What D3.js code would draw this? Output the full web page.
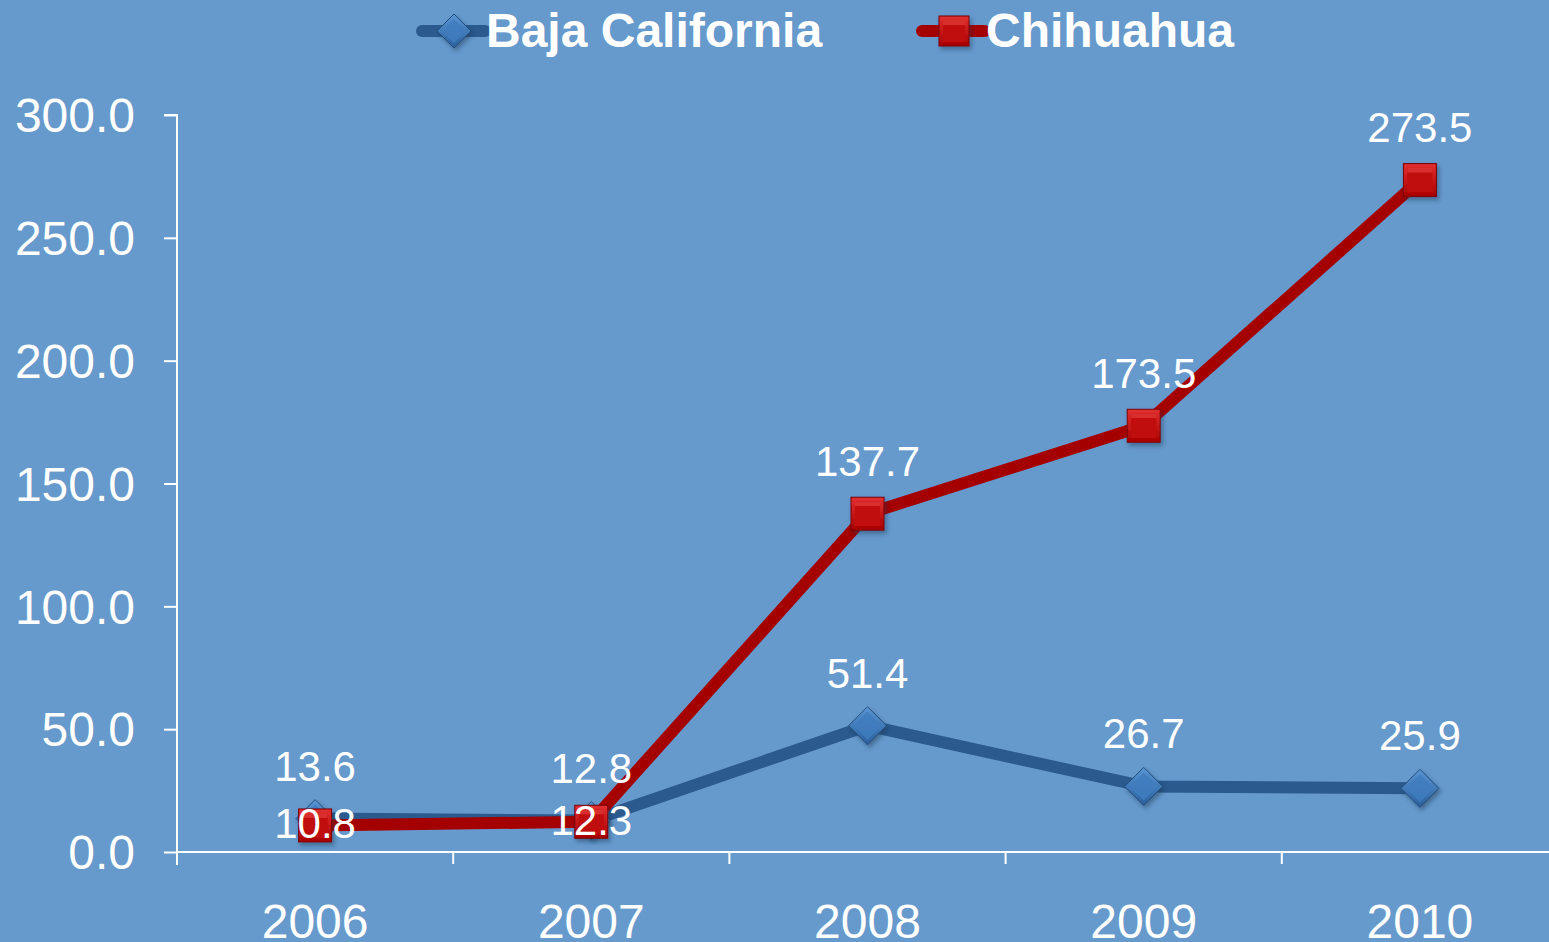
<!DOCTYPE html>
<html><head><meta charset="utf-8">
<script src="https://cdn.jsdelivr.net/npm/d3@7/dist/d3.min.js"></script>
<style>html,body{margin:0;padding:0;background:#6699CC;overflow:hidden}svg{display:block}</style>
</head><body>
<script>
const years = ["2006","2007","2008","2009","2010"];
const bajaCalifornia = [13.6, 12.8, 51.4, 26.7, 25.9];
const chihuahua = [10.8, 12.3, 137.7, 173.5, 273.5];
const seriesNames = ["Baja California", "Chihuahua"];
const yTicks = [0, 50, 100, 150, 200, 250, 300];
const chihuahuaLabelPos = ["center","center","above","above","above"];
const bajaLabelPos = ["above","above","above","above","above"];

const W = 1549, H = 942;
const svg = d3.select("body").append("svg").attr("width", W).attr("height", H);
svg.append("rect").attr("width", W).attr("height", H).attr("fill", "#6699CC");

const defs = svg.append("defs");
const rg = defs.append("linearGradient").attr("id","redg").attr("x1",0).attr("y1",0).attr("x2",0).attr("y2",1);
rg.append("stop").attr("offset","0%").attr("stop-color","#E23030");
rg.append("stop").attr("offset","100%").attr("stop-color","#A80000");
const bg = defs.append("linearGradient").attr("id","blueg").attr("x1",0).attr("y1",0).attr("x2",0).attr("y2",1);
bg.append("stop").attr("offset","0%").attr("stop-color","#5A96D4");
bg.append("stop").attr("offset","100%").attr("stop-color","#2A5F9C");
const sh = defs.append("filter").attr("id","shadow").attr("x","-50%").attr("y","-50%").attr("width","200%").attr("height","200%");
sh.append("feDropShadow").attr("dx",2).attr("dy",3).attr("stdDeviation",2).attr("flood-color","#1d3550").attr("flood-opacity",0.45);

const x0 = 177, yBase = 852, yTop = 115;
const x = d3.scaleBand().domain(years).range([x0, x0 + 5*276.2]).padding(0);
const y = d3.scaleLinear().domain([0, 300]).range([yBase, yTop]);
const cx = d => x(d) + x.bandwidth()/2;
const FONT = "Liberation Sans, Arial, sans-serif";

// Y axis
const yAxis = d3.axisLeft(y).tickValues(yTicks).tickSize(13).tickFormat(d3.format(".1f"));
const gy = svg.append("g").attr("transform", `translate(${x0},0)`).call(yAxis);
gy.select(".domain").attr("stroke","#fff").attr("stroke-width",2).attr("d", `M-13,${yTop}H0V${yBase+13}`);
gy.selectAll(".tick line").attr("stroke","#fff").attr("stroke-width",2);
gy.selectAll(".tick text").attr("fill","#fff").attr("font-family",FONT)
  .attr("font-size",48).attr("x",-42).attr("dy","0.35em");

// X axis
const bounds = years.map(d => x(d)).concat([x(years[4]) + x.bandwidth()]);
const gx = svg.append("g");
gx.append("line").attr("x1", x0).attr("x2", W).attr("y1", yBase).attr("y2", yBase).attr("stroke","#fff").attr("stroke-width",2);
gx.selectAll("line.t").data(bounds.slice(1)).join("line").attr("class","t")
  .attr("x1", d=>d).attr("x2", d=>d).attr("y1", yBase).attr("y2", yBase+12).attr("stroke","#fff").attr("stroke-width",2);
gx.selectAll("text").data(years).join("text")
  .attr("x", d => cx(d)).attr("y", 938).attr("text-anchor","middle")
  .attr("fill","#fff").attr("font-family",FONT).attr("font-size",48).text(d=>d);

const line = d3.line().x((d,i)=>cx(years[i])).y(d=>y(d));

function diamond(g, px, py, s) {
  const gg = g.append("g").attr("transform", `translate(${px},${py})`).attr("filter","url(#shadow)");
  gg.append("path").attr("d", `M0,${-s}L${s},0L0,${s}L${-s},0Z`).attr("fill","url(#blueg)").attr("stroke","#234d7c").attr("stroke-width",1);
  gg.append("path").attr("d", `M0,${-s+5}L${s-5},0L0,${s-5}L${-s+5},0Z`).attr("fill","#3F7DBE").attr("opacity",0.85);
}
function square(g, px, py, s) {
  const gg = g.append("g").attr("transform", `translate(${px},${py})`).attr("filter","url(#shadow)");
  gg.append("rect").attr("x",-s).attr("y",-s).attr("width",2*s).attr("height",2*s).attr("fill","url(#redg)").attr("stroke","#7a0000").attr("stroke-width",1);
  gg.append("rect").attr("x",-s+4).attr("y",-s+4).attr("width",2*s-8).attr("height",2*s-8).attr("fill","#C00808");
  gg.append("rect").attr("x",-s+4).attr("y",-s+4).attr("width",2*s-8).attr("height",5).attr("fill","#E84848").attr("opacity",0.6);
}

const plot = svg.append("g");
plot.append("path").datum(bajaCalifornia).attr("d", line).attr("fill","none").attr("stroke","#2B5A8E").attr("stroke-width",12).attr("stroke-linejoin","round");
bajaCalifornia.forEach((v,i)=> diamond(plot, cx(years[i]), y(v), 19));
plot.append("path").datum(chihuahua).attr("d", line).attr("fill","none").attr("stroke","#A50000").attr("stroke-width",12).attr("stroke-linejoin","round");
chihuahua.forEach((v,i)=> square(plot, cx(years[i]), y(v), 16.5));

// Data labels
const lblFont = 42;
function labels(data, pos) {
  plot.append("g").selectAll("text").data(data).join("text")
    .attr("x", (d,i)=>cx(years[i])).attr("y", (d,i)=> pos[i]==="above" ? y(d)-38 : y(d)+13)
    .attr("text-anchor","middle").attr("fill","#fff").attr("font-family",FONT)
    .attr("font-size", lblFont).text(d=>d3.format(".1f")(d));
}
labels(bajaCalifornia, bajaLabelPos);
labels(chihuahua, chihuahuaLabelPos);

// Legend
const leg = svg.append("g");
const legItems = [{name: seriesNames[0], x: 422, type:"d", color:"#2B5A8E"}, {name: seriesNames[1], x: 922, type:"s", color:"#A50000"}];
legItems.forEach(it => {
  leg.append("line").attr("x1", it.x).attr("x2", it.x+63).attr("y1", 31).attr("y2", 31).attr("stroke", it.color).attr("stroke-width",12).attr("stroke-linecap","round");
  if (it.type==="d") diamond(leg, it.x+32, 31, 17); else square(leg, it.x+32, 31, 15);
  leg.append("text").attr("x", it.x+64).attr("y", 47).attr("fill","#fff").attr("font-family",FONT)
    .attr("font-weight","bold").attr("font-size",48).text(it.name);
});
</script>
</body></html>
